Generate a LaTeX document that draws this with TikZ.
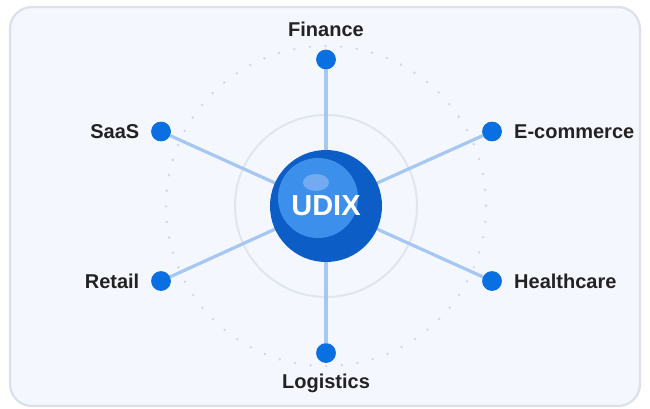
\documentclass[tikz,border=0pt]{standalone}
\usepackage{fontspec}
\setmainfont{Liberation Sans}
\definecolor{bgfill}{HTML}{F4F7FD}
\definecolor{bgborder}{HTML}{DCE0E8}
\definecolor{ringc}{HTML}{E0E6F0}
\definecolor{dotring}{HTML}{D3D9E4}
\definecolor{spoke}{HTML}{A5C7F1}
\definecolor{dotc}{HTML}{0A70E2}
\definecolor{hubdark}{HTML}{0D5DC6}
\definecolor{hublight}{HTML}{3C8FEB}
\definecolor{hubhi}{HTML}{7DB1F3}
\definecolor{labelc}{HTML}{222222}
\tikzset{
  endpt/.style={circle, fill=dotc, minimum size=19.5pt, inner sep=0pt},
  lbl/.style={font=\bfseries\fontsize{20}{23}\selectfont, text=labelc, inner sep=0pt},
  spokeline/.style={draw=spoke, line width=3.2pt}
}
\begin{document}
\begin{tikzpicture}[x=1pt,y=-1pt]
\useasboundingbox (0,0) rectangle (650,409);
\fill[white] (0,0) rectangle (650,409);
\draw[bgborder, fill=bgfill, line width=2.2pt, rounded corners=22pt] (10,7) rectangle (640,406);
% dotted circle
\draw[dotring, line width=2.8pt, line cap=round, dash pattern=on 0pt off 15.7pt] (326,206) circle[radius=160];
% inner ring
\draw[ringc, line width=2pt] (326,206) circle[radius=91];
\coordinate (c) at (326,206);
% endpoints
\node[endpt] (fin) at (326,59.5) {};
\node[endpt] (log) at (326,353) {};
\node[endpt] (saas) at (161,131.5) {};
\node[endpt] (ecom) at (492,131.5) {};
\node[endpt] (ret) at (161,281) {};
\node[endpt] (hea) at (492,281) {};
% spokes
\foreach \n in {fin,log,saas,ecom,ret,hea} {
  \draw[spokeline] (c) -- (\n.center);
}
% redraw endpoints on top
\foreach \n in {fin,log,saas,ecom,ret,hea} {
  \fill[dotc] (\n.center) circle[radius=9.75];
}
% hub
\node[circle, fill=hubdark, minimum size=112pt, inner sep=0pt] (hub) at (326,206) {};
\fill[hublight] (318,198) circle[radius=40];
\fill[hubhi, opacity=0.85] (316,182.5) ellipse[x radius=13, y radius=8.5];
\node[font=\bfseries\fontsize{29}{32}\selectfont, text=white, inner sep=0pt] (udix) at (326,206) {UDIX};
% labels
\node[lbl, anchor=base] (lfin) at (326,36.5) {Finance};
\node[lbl, anchor=base] (llog) at (326,388) {Logistics};
\node[lbl, anchor=base east] (lsaas) at (139.5,138.5) {SaaS};
\node[lbl, anchor=base east] (lret) at (139.5,288) {Retail};
\node[lbl, anchor=base west] (lecom) at (514,138.5) {E-commerce};
\node[lbl, anchor=base west] (lhea) at (514,288) {Healthcare};
\end{tikzpicture}
\end{document}
